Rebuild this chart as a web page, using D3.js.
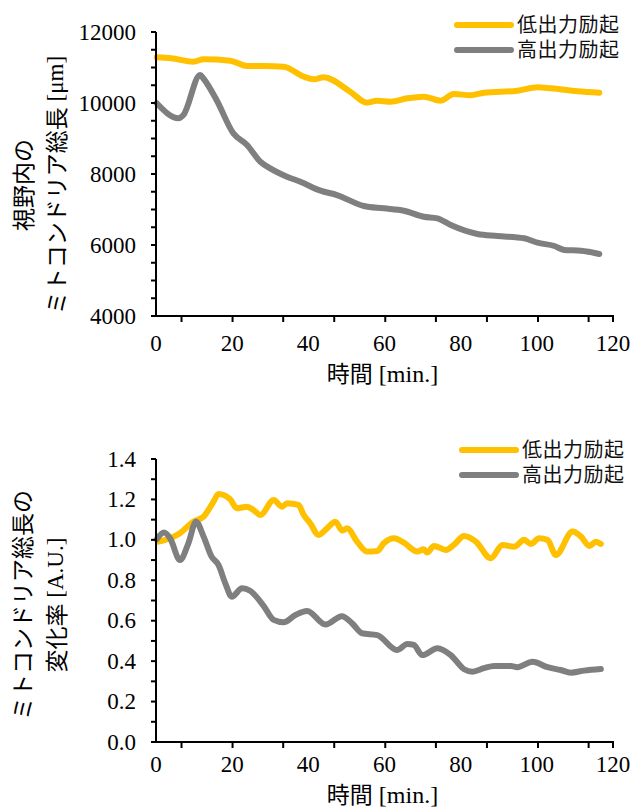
<!DOCTYPE html>
<html>
<head>
<meta charset="utf-8">
<script src="https://cdn.jsdelivr.net/npm/d3@7"></script>
<style>
  body { margin: 0; background: #fff; }
</style>
</head>
<body>
<svg id="chart" width="633" height="809"></svg>
<script>
var SERIF = "Liberation Serif";
var JP = "Noto Sans CJK JP";

// series names
var seriesNames = ["低出力励起", "高出力励起"];
var seriesColors = ["#FFC000", "#7F7F7F"];

// top chart: total length [um], [time, value]
var lenLow = [[0.2,11287],[4,11260],[9.8,11164],[12.5,11231],[19.5,11192],[23.9,11042],[28,11040],[33.5,11023],
  [38.8,10741],[41.4,10667],[44,10724],[51,10318],[55.4,10009],[58.1,10065],[61.6,10037],[66,10132],
  [70.3,10178],[74.7,10065],[78.2,10254],[82.6,10217],[86.1,10290],[94.9,10346],[100.2,10442],
  [103.7,10414],[110.7,10330],[116.4,10290]];
var lenHigh = [[0.2,9992],[5.9,9569],[7.2,9662],[11.6,10789],[12.4,10696],[15.9,10085],[20.3,9146],
  [23.9,8817],[27.4,8347],[30,8160],[34.4,7924],[37.9,7783],[43.2,7530],[47.5,7408],[54.6,7099],
  [59.8,7034],[65.1,6966],[70.3,6797],[73.9,6752],[77.4,6563],[84.4,6310],[89.6,6254],[96.7,6189],
  [100.2,6065],[104.6,5972],[107.2,5859],[111.6,5839],[116.4,5746]];

// bottom chart: rate of change [A.U.]
var rateLow = [[0.6,0.991],[3.7,1.008],[6.3,1.033],[9.8,1.090],[12.5,1.115],[15.1,1.189],[16.4,1.227],
  [19.5,1.201],[21.2,1.156],[23.9,1.164],[25.6,1.148],[27.4,1.123],[30.9,1.197],[33.1,1.164],
  [34.4,1.181],[37.4,1.173],[38.8,1.123],[40.5,1.082],[42.7,1.024],[44.9,1.057],[47.1,1.090],
  [48.9,1.046],[50.2,1.057],[52.8,0.991],[55.4,0.942],[58.1,0.945],[59.8,0.983],[62.5,1.008],
  [65.1,0.986],[68.6,0.942],[70.3,0.953],[71.2,0.937],[73,0.970],[76.1,0.950],[78.2,0.975],
  [80.9,1.019],[84,0.991],[87.9,0.909],[91,0.975],[94,0.966],[96.7,1.000],[98.4,0.980],
  [100.6,1.008],[102.8,1.000],[105,0.925],[109.4,1.041],[111.6,1.016],[113.8,0.970],[115.5,0.991],[116.8,0.980]];
var rateHigh = [[0.2,1.003],[2.1,1.036],[3.7,1.008],[6.3,0.900],[8.5,0.983],[10.5,1.090],[12.5,1.016],
  [14.6,0.917],[16.4,0.876],[18.2,0.785],[19.9,0.719],[22.6,0.760],[24.7,0.748],[28.2,0.675],
  [30.9,0.604],[33.5,0.592],[36.6,0.628],[39.7,0.648],[44.5,0.581],[48.8,0.622],[51.5,0.587],
  [54.1,0.538],[58.1,0.529],[63.3,0.455],[66,0.485],[67.7,0.480],[69.9,0.430],[73.9,0.464],
  [77.4,0.430],[80.9,0.360],[83.1,0.348],[86.1,0.365],[88.8,0.376],[93.2,0.376],[94.9,0.370],
  [98.9,0.397],[102.8,0.370],[106.3,0.356],[108.9,0.343],[112.4,0.353],[116.8,0.361]];

// axis ticks
var xLabels = [0, 20, 40, 60, 80, 100, 120];
var xTickMarks = [6.7, 20.1, 33.4, 46.8, 60.2, 73.5, 86.9, 100.3, 113.6, 120];
var lenLabels = [4000, 6000, 8000, 10000, 12000];
var rateLabels = [0, 0.2, 0.4, 0.6, 0.8, 1.0, 1.2, 1.4];

var svg = d3.select("#chart");

function draw_panel(opt) {
    var g = svg.append("g");

    var x = d3.scaleLinear().domain([0, 120]).range([opt.left, opt.right]);
    var y = d3.scaleLinear().domain(opt.yDomain).range([opt.bottom, opt.top]);

    // lines
    var line = d3.line().curve(d3.curveMonotoneX).x(d => x(d[0])).y(d => y(d[1]));
    opt.series.forEach(function (s, i) {
        g.append("path")
            .datum(s)
            .attr("d", line)
            .attr("fill", "none")
            .attr("stroke", seriesColors[i])
            .attr("stroke-width", 6)
            .attr("stroke-linejoin", "round")
            .attr("stroke-linecap", "round");
    });

    // y axis
    g.append("line")
        .attr("x1", opt.left).attr("x2", opt.left)
        .attr("y1", opt.top).attr("y2", opt.bottom + 1)
        .attr("stroke", "#000").attr("stroke-width", 2);
    g.selectAll(".ytk")
        .data(opt.yMinor)
        .enter().append("line")
        .attr("x1", opt.left - 5).attr("x2", opt.left)
        .attr("y1", d => y(d)).attr("y2", d => y(d))
        .attr("stroke", "#000").attr("stroke-width", 2);
    g.selectAll(".ylab")
        .data(opt.yLabels)
        .enter().append("text")
        .attr("font-family", SERIF)
        .attr("font-size", 23)
        .attr("x", opt.left - 20)
        .attr("y", d => y(d))
        .attr("dy", "0.33em")
        .attr("text-anchor", "end")
        .text(opt.yFormat);

    // x axis
    g.append("line")
        .attr("x1", opt.left - 3).attr("x2", opt.right + 1)
        .attr("y1", opt.bottom).attr("y2", opt.bottom)
        .attr("stroke", "#000").attr("stroke-width", 2);
    g.selectAll(".xtk")
        .data(xTickMarks)
        .enter().append("line")
        .attr("x1", d => x(d)).attr("x2", d => x(d))
        .attr("y1", opt.bottom).attr("y2", opt.bottom + 6)
        .attr("stroke", "#000").attr("stroke-width", 2);
    g.selectAll(".xlab")
        .data(xLabels)
        .enter().append("text")
        .attr("font-family", SERIF)
        .attr("font-size", 23)
        .attr("x", d => x(d))
        .attr("y", opt.bottom + opt.xLabOff)
        .attr("text-anchor", "middle")
        .text(d => d);

    // x title
    var xt = g.append("text")
        .attr("x", (opt.left + opt.right) / 2 - 2)
        .attr("y", opt.bottom + opt.xTitleOff)
        .attr("text-anchor", "middle")
        .attr("font-size", 23);
    xt.append("tspan").attr("font-family", JP).text("時間");
    xt.append("tspan").attr("font-family", SERIF).attr("font-size", 24).text(" [min.]");

    // y title (two lines)
    opt.yTitle.forEach(function (parts, i) {
        var t = g.append("text")
            .attr("transform", "translate(" + opt.yTitleX[i] + "," + opt.yTitleY + ") rotate(-90)")
            .attr("text-anchor", "middle")
            .attr("dominant-baseline", "central")
            .attr("font-size", 23);
        parts.forEach(function (p) {
            t.append("tspan").attr("font-family", p[1] ? SERIF : JP).text(p[0]);
        });
    });

    // legend
    seriesNames.forEach(function (name, i) {
        var ly = opt.legendY + i * 25;
        g.append("line")
            .attr("x1", opt.legendX).attr("x2", opt.legendX + 54)
            .attr("y1", ly).attr("y2", ly)
            .attr("stroke", seriesColors[i])
            .attr("stroke-width", 6)
            .attr("stroke-linecap", "round");
        g.append("text")
            .attr("font-family", JP)
            .attr("x", opt.legendX + 60)
            .attr("y", ly)
            .attr("dy", "0.36em")
            .attr("font-size", 20)
            .style("letter-spacing", "0.5px")
            .attr("fill", "#111")
            .text(name);
    });
}

draw_panel({
    left: 156, right: 613, top: 32, bottom: 316,
    yDomain: [4000, 12000],
    yLabels: lenLabels,
    yMinor: d3.range(4000, 12001, 500),
    yFormat: d => d,
    series: [lenLow, lenHigh],
    xLabOff: 35, xTitleOff: 66,
    yTitle: [[["視野内の", false]], [["ミトコンドリア総長", false], [" [μm]", true]]],
    yTitleX: [22, 55], yTitleY: 185,
    legendX: 457, legendY: 25
});

draw_panel({
    left: 156, right: 613, top: 459, bottom: 742,
    yDomain: [0, 1.4],
    yLabels: rateLabels,
    yMinor: d3.range(0, 15).map(d => d / 10),
    yFormat: d => d3.format(".1f")(d),
    series: [rateLow, rateHigh],
    xLabOff: 30, xTitleOff: 61,
    yTitle: [[["ミトコンドリア総長の", false]], [["変化率", false], [" [A.U.]", true]]],
    yTitleX: [21, 55], yTitleY: 605,
    legendX: 462, legendY: 450
});
</script>
</body>
</html>
